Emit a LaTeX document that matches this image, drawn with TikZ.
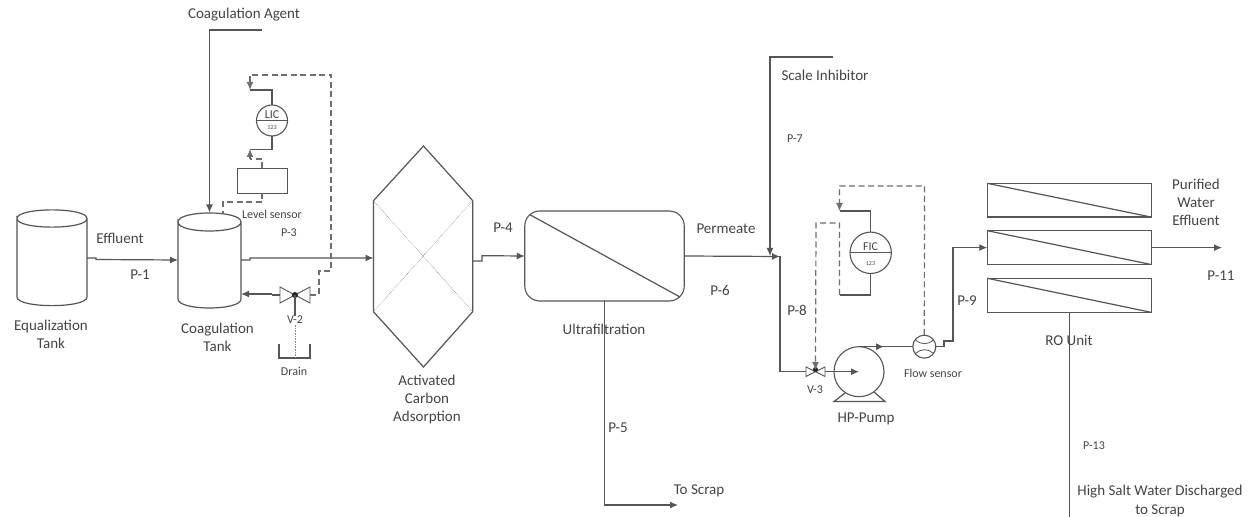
\documentclass[tikz,border=0pt]{standalone}
\usepackage{fontspec}
\setmainfont{Carlito}
\usetikzlibrary{arrows.meta,calc}
\definecolor{ln}{HTML}{555555}
\definecolor{tx}{HTML}{444444}
\tikzset{
  pipe/.style={draw=ln,line width=1.2bp},
  flow/.style={pipe,-{Latex[length=8bp,width=7bp]}},
  signal/.style={draw=ln!85,line width=1.2bp,dash pattern=on 6bp off 3.5bp},
  sigflow/.style={signal,-{Latex[length=8bp,width=7bp]}},
  blockshape/.style={draw=none,inner sep=0,outer sep=0,minimum width=#1},
  unitbox/.style={draw=ln,line width=1.1bp,inner sep=0,outer sep=0},
  dial/.style={circle,draw=ln,line width=1.1bp,inner sep=0,outer sep=0,minimum size=#1},
  lab/.style={text=tx,inner sep=0,outer sep=0,align=center,font=\fontsize{15bp}{18bp}\selectfont},
  smalllab/.style={text=tx,inner sep=0,outer sep=0,align=center,font=\fontsize{12bp}{14bp}\selectfont},
  tinylab/.style={text=tx,inner sep=0,outer sep=0,font=\fontsize{6bp}{7bp}\selectfont},
  dotline/.style={draw=ln!70,line width=.6bp,densely dotted},
}
\newcommand{\tank}[5]{%
  \path[pipe] (#1,#3) .. controls (#1,#3-#5) and (#2,#3-#5) .. (#2,#3)
    .. controls (#2,#3+#5) and (#1,#3+#5) .. (#1,#3) -- (#1,#4)
    .. controls (#1,#4+#5) and (#2,#4+#5) .. (#2,#4) -- (#2,#3);
}
\begin{document}
\begin{tikzpicture}[x=1bp,y=-1bp]
\useasboundingbox[fill=white] (0,0) rectangle (1258,517);

% ---- equipment
\node[blockshape=70bp,minimum height=96bp] (eq) at (52,258) {};
\tank{17}{87}{218.5}{297}{11.5}
\node[blockshape=63bp,minimum height=95bp] (coag) at (209.5,260) {};
\tank{178}{241}{222}{299}{12}

\node[blockshape=99bp,minimum height=221bp] (hex) at (423,256.5) {};
\draw[pipe] (423.5,146) -- (472.7,200.7) -- (472.7,311.7) -- (423.5,367) -- (373.5,311.7) -- (373.5,200.7) -- cycle;
\draw[dotline] (373.5,200.7) -- (472.7,311.7) (472.7,200.7) -- (373.5,311.7);

\node[unitbox,rounded corners=15bp,minimum width=159.5bp,minimum height=90bp] (uf) at (604.5,256) {};
\draw[pipe] (529.5,214.5) -- (680,297);

\node[unitbox,minimum width=163.7bp,minimum height=33.7bp] (roa) at (1069.2,200.2) {};
\node[unitbox,minimum width=163.7bp,minimum height=33.8bp] (rob) at (1069.2,247.6) {};
\node[unitbox,minimum width=163.7bp,minimum height=34bp] (roc) at (1069.2,295.3) {};
\draw[pipe] (roa.north west) -- (roa.south east);
\draw[pipe] (rob.north west) -- (rob.south east);
\draw[pipe] (roc.north west) -- (roc.south east);

% ---- instruments
\node[dial=31bp] (lic) at (272,120.5) {};
\draw[pipe] (lic.west) -- (lic.east);
\node[draw=ln,line width=.8bp,inner sep=0,outer sep=0,minimum width=50bp,minimum height=25bp] (sensor) at (262,180.5) {};
\node[dial=41.4bp] (fic) at (870.7,252.8) {};
\draw[pipe] (fic.west) -- (fic.east);
\node[dial=50bp] (pump) at (859,371.7) {};
\draw[pipe] (845,393) -- (834,401.5) -- (885,401.5) -- (874,392);
\node[dial=23bp] (flowm) at (924.3,346.7) {};
\draw[draw=ln,line width=.8bp] (915.7,340) .. controls (921,345) and (928,345) .. (933.3,340);
\draw[draw=ln,line width=.8bp] (915.7,353.3) .. controls (921,348.5) and (928,348.5) .. (933.3,353.3);

% ---- valves
\coordinate (vtwo) at (295,295);
\coordinate (vtwol) at (280,295);
\coordinate (vtwor) at (310,295);
\draw[draw=ln,line width=.9bp] (vtwo) -- (280,287) -- (280,303) -- cycle (vtwo) -- (310,287) -- (310,303) -- cycle;
\fill[black!85] (vtwo) circle[radius=3bp];
\coordinate (vthree) at (815.5,371.7);
\coordinate (vthreel) at (806,371.7);
\coordinate (vthreer) at (825,371.7);
\draw[draw=ln,line width=.9bp] (vthree) -- (806,367) -- (806,376.5) -- cycle (vthree) -- (825,367) -- (825,376.5) -- cycle;
\fill[black!85] (815.5,369.5) circle[radius=2.5bp];

% ---- drain basin
\coordinate (drainbase) at (295,358);
\draw[pipe] (279,344) -- (279,358) -- (310,358) -- (310,344);
\draw[pipe] (vtwo) -- (295,320);
\draw[dotline] (295,320) -- (drainbase);

% ---- process connectors
\draw[flow] (eq.east) -- ++(9,0) -- ++(0,1.5) -- (coag.west);
\coordinate (agentsrc) at (262,30);
\draw[flow] (agentsrc) -- (209.5,30) -- (coag.north);
\draw[flow] (coag.east) -- ++(9,0) -- (250,258) -- (373.5,258);
\draw[pipe] (vtwol) -- (272,295);
\draw[flow] (272,294) -- (241,294);
\draw[flow] (472.7,261) -- (482,261) -- (482,255.7) -- (uf.west);
\coordinate (mix) at (780,256.5);
\draw[flow] (uf.east) -- (mix);
\coordinate (scalesrc) at (833,57);
\draw[flow] (scalesrc) -- (770,57) -- (770,256);
\draw[pipe] (mix) -- (780,371.7) -- (vthreel);
\draw[flow] (vthreer) -- (pump.center);
\coordinate (pumpout) at (859,346.7);
\draw[pipe] (pumpout) -- (flowm.west);
\draw[flow] (pumpout) -- (884,346.7);
\draw[flow] (flowm.east) -- (944,346.7) -- (944,341) -- (953,341) -- (953,247.6) -- (rob.west);
\draw[flow] (rob.east) -- (1222,247.6);
\coordinate (rosrc) at (1069.5,517);
\draw[pipe] (roc.south -| rosrc) -- (rosrc);
\coordinate (scrap) at (678,505);
\draw[flow] (uf.south) -- (604.5,505) -- (scrap);

% ---- signal connectors
\draw[sigflow] (310,295) -- (319,295) -- (319,271) -- (331,271) -- (331,75) -- (250,75) -- (250,90);
\draw[pipe] (250,90) -- (272,90) -- (lic.north);
\draw[pipe] (lic.south) -- (272,149.5) -- (250,149.5);
\draw[signal] (262,168) -- (262,159) -- (250,159);
\draw[sigflow] (250,159) -- (250,149);
\draw[signal] (sensor.south) -- (262,202) -- (223,202) -- (223,214);
\draw[pipe] (fic.north) -- (870.7,211) -- (839.5,211);
\draw[pipe] (fic.south) -- (870.7,295) -- (839.5,295);
\draw[sigflow] (924.3,335) -- (924.5,186) -- (839.5,186) -- (839.5,211);
\draw[sigflow] (839.5,295) -- (839.5,223) -- (816,223) -- (815.5,370);

% ---- labels
\node[lab] (tcoagagent) at (244,15) {Coagulation Agent};
\node[lab] (teff) at (120,238) {Effluent};
\node[lab] (tp1) at (140,275) {P-1};
\node[lab] (teq) at (51,334) {Equalization\\Tank};
\node[lab] (tcoag) at (217.5,337) {Coagulation\\Tank};
\node[smalllab] (tlevel) at (272,214) {Level sensor};
\node[smalllab] (tp3) at (289,233) {P-3};
\node[smalllab,fill=white,inner sep=.5bp] (tvtwo) at (295,320) {V-2};
\node[smalllab] (tdrain) at (294,371) {Drain};
\node[smalllab] (tlic) at (272,115) {LIC};
\node[tinylab] at (272,128) {123};
\node[lab] (tacti) at (427,400) {Activated\\Carbon\\Adsorption};
\node[lab] (tp4) at (503,228) {P-4};
\node[lab] (tuf) at (604,329) {Ultrafiltration};
\node[lab] (tperm) at (726,229) {Permeate};
\node[lab] (tp6) at (720,290) {P-6};
\node[lab] (tp5) at (618,428) {P-5};
\node[lab] (tscrap) at (699,491) {To Scrap};
\node[lab] (tscale) at (825,75) {Scale Inhibitor};
\node[smalllab] (tp7) at (795,139) {P-7};
\node[lab] (tp8) at (797,310) {P-8};
\node[lab] (tp9) at (967,301) {P-9};
\node[smalllab] (tfic) at (870.5,247) {FIC};
\node[tinylab] at (870.5,264) {123};
\node[smalllab] (tv3) at (815,390) {V-3};
\node[lab] (thp) at (866,419) {HP-Pump};
\node[smalllab] (tflow) at (933,373) {Flow sensor};
\node[lab] (tpure) at (1196,202) {Purified\\Water\\Effluent};
\node[lab] (tp11) at (1221,276) {P-11};
\node[lab] (tro) at (1069,340) {RO Unit};
\node[smalllab] (tp13) at (1094,446) {P-13};
\node[lab] (thigh) at (1160,501) {High Salt Water Discharged\\to Scrap};
\end{tikzpicture}
\end{document}
